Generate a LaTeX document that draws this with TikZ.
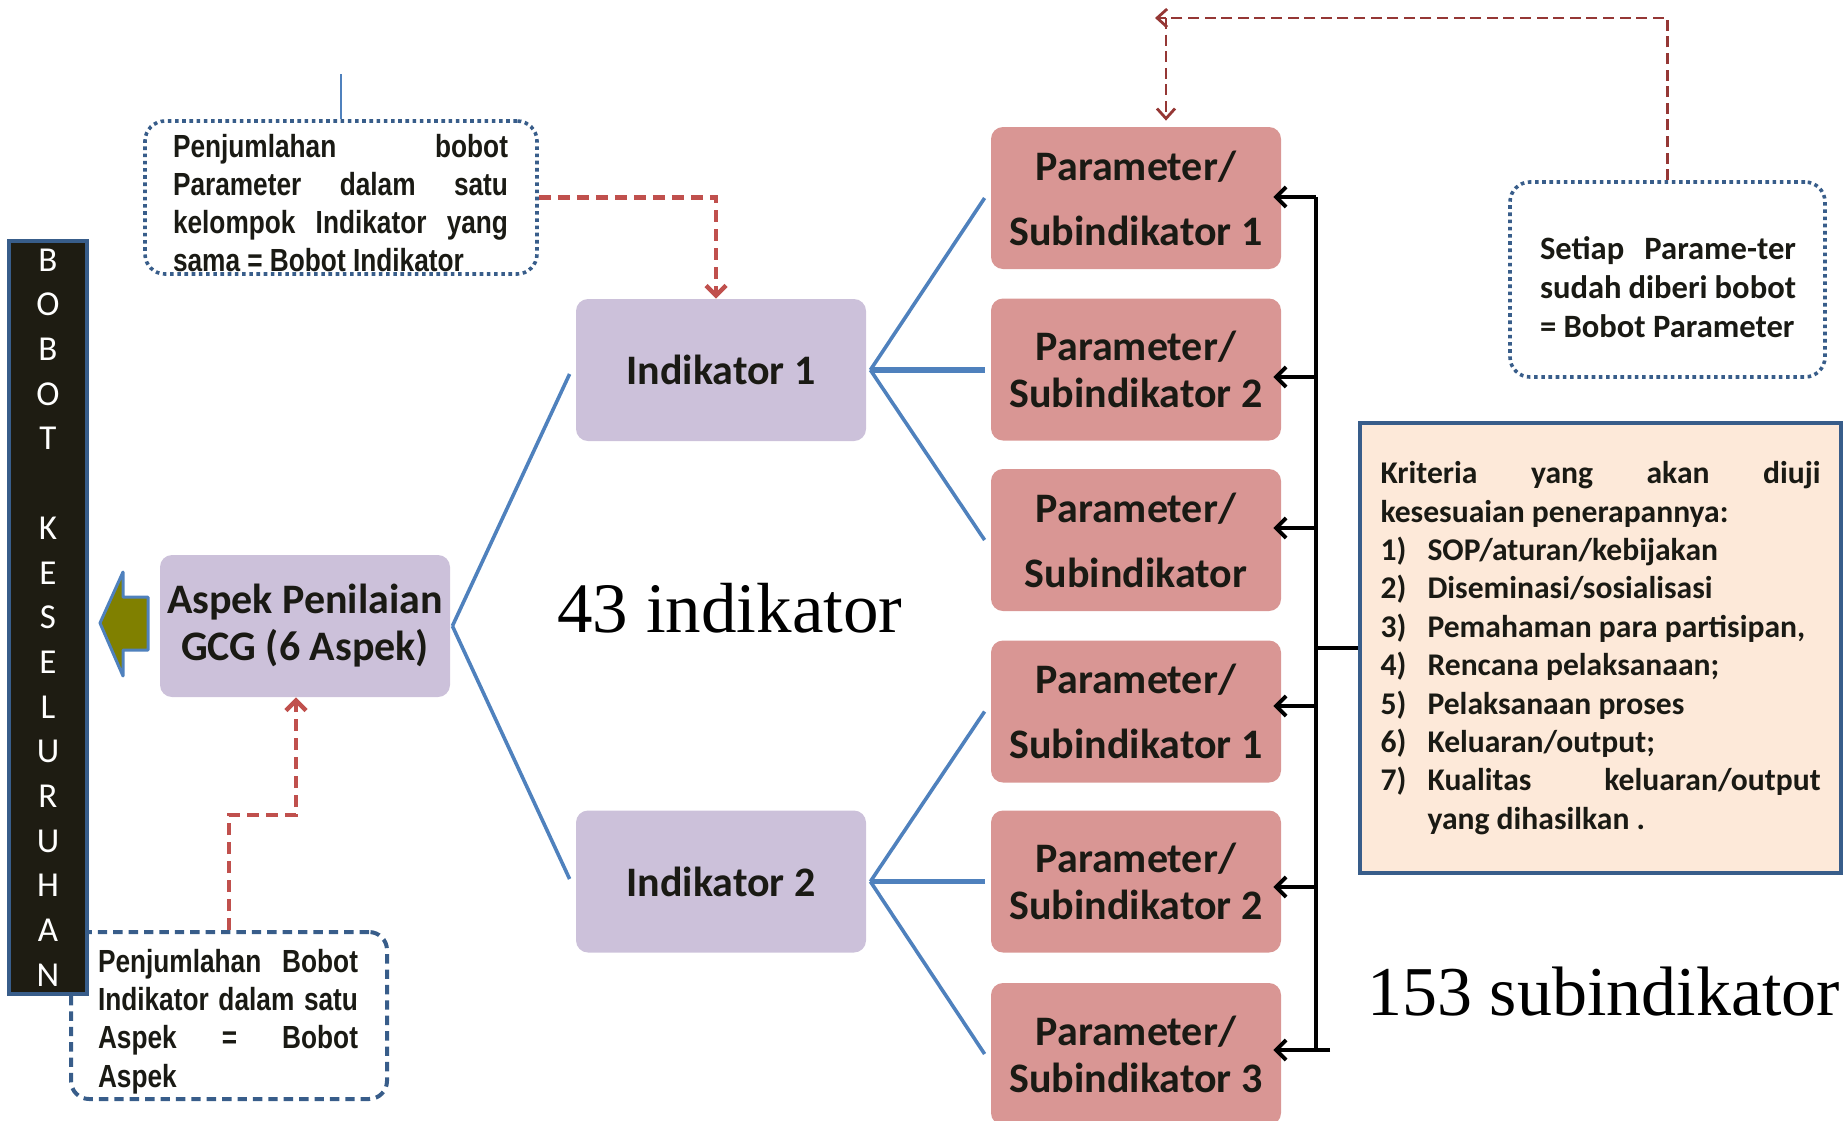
\documentclass[tikz,border=0pt]{standalone}
\usepackage{fontspec}
\setmainfont{Carlito}
\newfontfamily\narrowfont[FakeStretch=0.82]{Liberation Sans}
\newfontfamily\bigserif{Liberation Serif}
\usetikzlibrary{arrows.meta}
\definecolor{lilac}{HTML}{CCC1DA}
\definecolor{rose}{HTML}{D99694}
\definecolor{peach}{HTML}{FDE9D9}
\definecolor{bluel}{HTML}{4F81BD}
\definecolor{blued}{HTML}{385D8A}
\definecolor{barfill}{HTML}{1E1C12}
\definecolor{olivef}{HTML}{808000}
\definecolor{redl}{HTML}{C0504D}
\definecolor{redd}{HTML}{953735}
\definecolor{ink}{HTML}{1A1A14}
\tikzset{
  lbox/.style={fill=lilac, rounded corners=6pt, minimum width=145pt, minimum height=71pt,
    inner sep=0pt, align=center, text=ink, font=\bfseries\fontsize{21}{23.5}\selectfont},
  pbox/.style={lbox, fill=rose},
  tree/.style={draw=bluel, line width=1.8pt},
  treeh/.style={draw=bluel, line width=2.6pt},
  bus/.style={draw=black, line width=1.9pt},
  busarr/.style={bus, -{Straight Barb[length=5pt,width=10pt]}},
  redarr/.style={draw=redl, line width=2.2pt, dash pattern=on 6pt off 3.5pt,
    -{Straight Barb[length=5pt,width=10pt]}},
  dredarr/.style={draw=redd, line width=1.4pt, dash pattern=on 5.5pt off 2.8pt,
    -{Straight Barb[length=5pt,width=9pt]}},
  dotbox/.style={draw=blued, line width=1.8pt, dash pattern=on 1.8pt off 1.8pt,
    rounded corners=10pt, inner sep=0pt},
  dashbox/.style={draw=blued, line width=2pt, dash pattern=on 4.7pt off 3pt,
    rounded corners=9pt, inner sep=0pt},
  notetext/.style={inner sep=0pt, text=ink},
}
\begin{document}
\begin{tikzpicture}[x=0.5pt, y=-0.5pt]
\useasboundingbox (0,0) rectangle (1843,1120);
\clip (0,0) rectangle (1843,1120);

% lower-left dashed note (drawn under the bar)
\node[dashbox, minimum width=158pt, minimum height=83.5pt] (ll) at (229,1015.5) {};
\node[notetext] (llT) at (228,1021.5) {\begin{minipage}{130pt}\narrowfont\bfseries\fontsize{16}{19.2}\selectfont
\makebox[130pt][s]{Penjumlahan Bobot}\\
\makebox[130pt][s]{Indikator dalam satu}\\
\makebox[130pt][s]{Aspek = Bobot}\\
Aspek\end{minipage}};

% vertical bar
\node[draw=blued, line width=2pt, fill=barfill, minimum width=39pt, minimum height=376.5pt,
  inner sep=0pt, text=white, align=center, font=\fontsize{17.5}{22.35}\selectfont]
  (bar) at (48,617.5) {B\\O\\B\\O\\T\\\mbox{}\\K\\E\\S\\E\\L\\U\\R\\U\\H\\A\\N};

% olive block arrow
\draw[draw=bluel, line width=1.5pt, fill=olivef, line join=round]
  (100,623) -- (123,572) -- (123,597) -- (148,597) -- (148,650) -- (123,650) -- (123,676) -- cycle;

% main boxes
\node[lbox] (asp) at (305,626) {Aspek Penilaian\\GCG (6 Aspek)};
\node[lbox] (ind1) at (721,370) {Indikator 1};
\node[lbox] (ind2) at (721,881.5) {Indikator 2};

\node[pbox] (p1) at (1136,198) {Parameter/\\[9pt]Subindikator 1};
\node[pbox] (p2) at (1136,369.5) {Parameter/\\Subindikator 2};
\node[pbox] (p3) at (1136,540) {Parameter/\\[9pt]Subindikator};
\node[pbox] (p4) at (1136,711.5) {Parameter/\\[9pt]Subindikator 1};
\node[pbox] (p5) at (1136,881.5) {Parameter/\\Subindikator 2};
\node[pbox] (p6) at (1136,1054) {Parameter/\\Subindikator 3};

% tree lines
\draw[tree] ([xshift=1pt]asp.east) -- ([xshift=-3pt,yshift=-2pt]ind1.west);
\draw[tree] ([xshift=1pt]asp.east) -- ([xshift=-3pt,yshift=1.25pt]ind2.west);
\draw[tree] ([xshift=2pt]ind1.east) -- ([xshift=-3pt]p1.west);
\draw[treeh] ([xshift=2pt]ind1.east) -- ([xshift=-3pt]ind1.east -| p2.west);
\draw[tree] ([xshift=2pt]ind1.east) -- ([xshift=-3pt]p3.west);
\draw[tree] ([xshift=2pt]ind2.east) -- ([xshift=-3pt]p4.west);
\draw[treeh] ([xshift=2pt]ind2.east) -- ([xshift=-3pt]ind2.east -| p5.west);
\draw[tree] ([xshift=2pt]ind2.east) -- ([xshift=-3pt]p6.west);

% criteria box
\node[draw=blued, line width=2pt, fill=peach, minimum width=240.5pt, minimum height=225pt,
  inner sep=0pt, text=ink] (krit) at (1600.5,648) {\begin{minipage}{220pt}\bfseries\fontsize{15.8}{19.2}\selectfont
\makebox[220pt][s]{Kriteria yang akan diuji}\\
kesesuaian penerapannya:\\
\makebox[23.5pt][l]{1)}SOP/aturan/kebijakan\\
\makebox[23.5pt][l]{2)}Diseminasi/sosialisasi\\
\makebox[23.5pt][l]{3)}Pemahaman para partisipan,\\
\makebox[23.5pt][l]{4)}Rencana pelaksanaan;\\
\makebox[23.5pt][l]{5)}Pelaksanaan proses\\
\makebox[23.5pt][l]{6)}Keluaran/output;\\
\makebox[23.5pt][l]{7)}\makebox[196.5pt][s]{Kualitas keluaran/output}\\
\hspace*{23.5pt}yang dihasilkan .\end{minipage}};

% bus with arrows
\coordinate (busT) at (1316,197);
\coordinate (busB) at (1316,1050);
\draw[bus] (busT) -- (busB);
\draw[busarr] (busT) -- ([xshift=-4pt]busT -| p1.east);
\draw[busarr] ([yshift=-3.75pt]p2.east -| busT) -- ([xshift=-4pt,yshift=-3.75pt]p2.east);
\draw[busarr] ([yshift=6pt]p3.east -| busT) -- ([xshift=-4pt,yshift=6pt]p3.east);
\draw[busarr] ([yshift=2.75pt]p4.east -| busT) -- ([xshift=-4pt,yshift=2.75pt]p4.east);
\draw[busarr] ([yshift=-2.75pt]p5.east -| busT) -- ([xshift=-4pt,yshift=-2.75pt]p5.east);
\draw[busarr] ([xshift=7pt,yshift=2pt]p6.east -| busT) -- ([xshift=-4pt,yshift=2pt]p6.east);
\draw[bus] (krit.west -| busT) -- (krit.west);

% setiap note
\node[dotbox, minimum width=157.5pt, minimum height=97.5pt] (setiap) at (1667.5,279.5) {};
\node[notetext] (setiapT) at (1668,287) {\begin{minipage}{128pt}\bfseries\fontsize{16.3}{19.5}\selectfont
\makebox[128pt][s]{Setiap Parame-ter}\\
sudah diberi bobot\\
= Bobot Parameter\end{minipage}};

% upper-left note
\node[dotbox, minimum width=196pt, minimum height=76.5pt] (ul) at (341,197.5) {};
\node[notetext] (ulT) at (340.5,203) {\begin{minipage}{167.5pt}\narrowfont\bfseries\fontsize{16}{19}\selectfont
\makebox[167.5pt][s]{Penjumlahan bobot}\\
\makebox[167.5pt][s]{Parameter dalam satu}\\
\makebox[167.5pt][s]{kelompok Indikator yang}\\
sama = Bobot Indikator\end{minipage}};
\coordinate (ultop) at (341,74);
\draw[draw=bluel, line width=0.9pt] (ul.north) -- (ultop);

% red dashed connectors
\draw[redarr] (ul.east) -| ([xshift=-2.5pt]ind1.north);
\coordinate (lb1) at (229,815);
\draw[redarr] (ll.north) -- (lb1) -| ([xshift=-4.5pt]asp.south);

% top dark red connector
\coordinate (topL) at (1155,18);
\coordinate (topC) at (1166,18);
\draw[dredarr] (setiap.north) |- (topL);
\draw[dredarr] (topC) -- ([xshift=15pt,yshift=3pt]p1.north);

% big labels
\node[anchor=base west, inner sep=0pt, font=\bigserif\fontsize{35.5}{40}\selectfont] (n43) at (557,632) {43 indikator};
\node[anchor=base west, inner sep=0pt, font=\bigserif\fontsize{35}{40}\selectfont] (n153) at (1367,1015) {153 subindikator};
\end{tikzpicture}
\end{document}
